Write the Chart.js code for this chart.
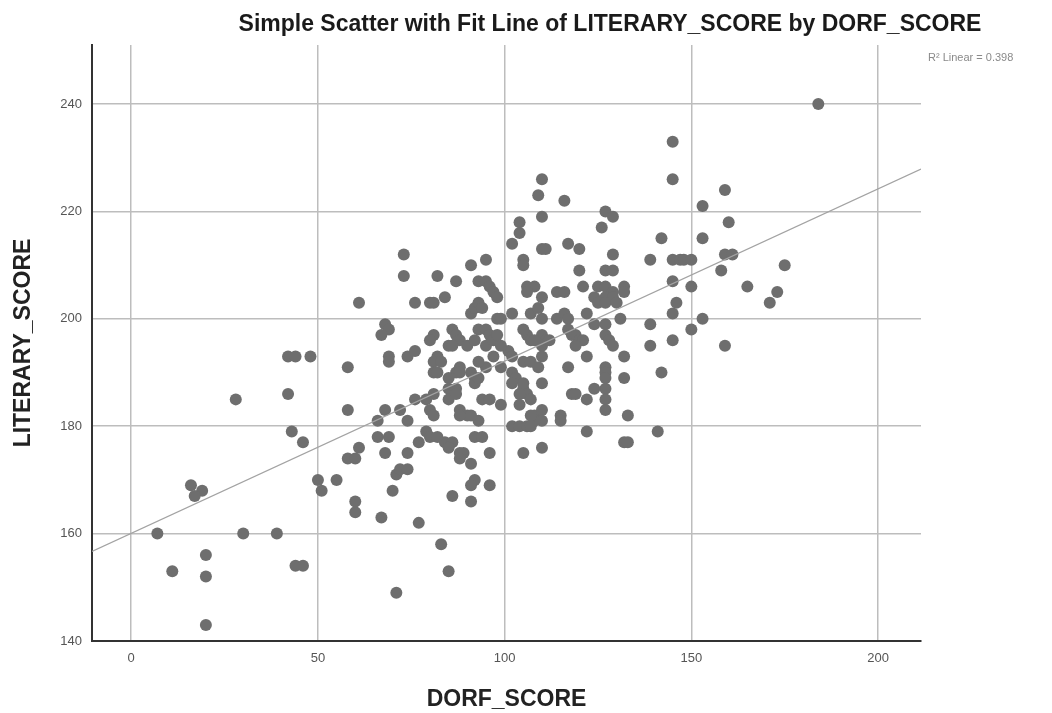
<!DOCTYPE html>
<html>
<head>
<meta charset="utf-8">
<script src="https://cdn.jsdelivr.net/npm/chart.js@4.4.1/dist/chart.umd.min.js"></script>
<style>
body { margin: 0; background: #ffffff; }
#wrap { width: 1052px; height: 713px; position: relative; }
</style>
</head>
<body>
<div id="wrap"><canvas id="myChart"></canvas></div>
<script>
// values
const dorfScore = [
    28, 42, 44, 48, 42, 43, 46, 50, 51, 16, 19, 17, 7, 30, 39, 20, 11, 20, 44, 46, 20,
    73, 73, 82, 95, 91, 87, 93, 95, 96, 61, 76, 80, 81, 84, 91, 92, 93, 94, 97, 98,
    68, 69, 67, 58, 69, 69, 74, 76, 81, 80, 86, 87, 88, 82, 81, 83, 81, 88, 87, 85,
    91, 92, 92, 95, 85, 87, 85, 87, 81, 76, 79, 80, 81, 58, 68, 72, 74, 66, 88, 90,
    94, 96, 93, 79, 80, 66, 69, 77, 84, 86, 92, 94, 61,
    82, 96, 58, 60, 68, 74, 71, 72, 74, 88, 89, 88, 91, 55, 60, 60, 70, 67, 77, 92,
    91, 96, 86, 91, 83, 85, 71,
    110, 109, 116, 110, 104, 104, 102, 110, 111, 117, 120, 127, 129, 126, 129, 105, 105,
    120, 127, 129, 98, 106, 108, 106, 110, 114, 116, 121, 125, 127, 129, 124, 127, 129,
    132, 132, 125, 127, 130, 99, 102, 107, 109, 110, 114, 116, 117, 122, 131,
    127, 124, 127, 106, 107, 110, 111, 110, 117, 118, 119, 120, 121, 128, 129, 119, 122,
    132, 101, 102, 105, 107, 109, 110, 117, 127, 127, 127, 127, 127, 132, 102, 103, 105,
    106, 107, 104, 102, 110, 118, 119, 124, 122, 99, 104, 108, 110, 110, 108, 107, 115,
    115, 127, 133, 102, 104, 106, 107, 122, 110, 105, 132, 133,
    184, 145, 145, 159, 153, 160, 142, 153, 139, 145, 147, 148, 150, 159, 161, 158, 175,
    145, 150, 165, 173, 171, 146, 145, 153, 139, 150, 139, 145, 159, 142, 141,
    85, 86, 90, 92, 93, 95, 96, 95, 93, 82, 88, 93, 91, 88, 85, 105, 108, 112, 97, 99,
    98, 105, 97, 99
];
const literaryScore = [
    185, 193, 193, 193, 186, 179, 177, 170, 168, 169, 168, 167, 160, 160, 160, 156, 153, 152, 154, 154, 143,
    212, 208, 208, 211, 210, 207, 207, 207, 206, 203, 203, 203, 203, 204, 201, 202, 203, 202, 205, 200,
    199, 198, 197, 191, 193, 192, 193, 194, 197, 196, 198, 197, 196, 193, 192, 192, 190, 191, 190, 189,
    190, 189, 188, 191, 187, 187, 185, 186, 186, 185, 185, 183, 182, 183, 183, 183, 181, 181, 183, 182,
    185, 185, 181, 179, 178, 178, 178, 177, 177, 177, 178, 178, 176,
    178, 175, 174, 174, 175, 175, 171, 172, 172, 175, 175, 174, 173, 170, 166, 164, 168, 163, 162, 170,
    169, 169, 167, 166, 158, 153, 149,
    226, 223, 222, 219, 218, 216, 214, 213, 213, 214, 213, 220, 219, 217, 212, 211, 210,
    209, 209, 209, 204, 206, 206, 205, 204, 205, 205, 206, 206, 206, 205, 204, 204, 204,
    206, 205, 203, 203, 203, 200, 201, 201, 202, 200, 200, 201, 200, 201, 200,
    199, 199, 197, 197, 196, 197, 196, 195, 198, 197, 197, 196, 196, 196, 195, 195, 193,
    193, 194, 193, 192, 192, 191, 193, 191, 191, 190, 189, 187, 185, 189, 190, 189, 187,
    186, 185, 186, 188, 188, 186, 186, 187, 185, 184, 184, 182, 183, 181, 181, 182, 182,
    181, 183, 182, 180, 180, 180, 180, 179, 176, 175, 177, 177,
    240, 233, 226, 224, 221, 218, 215, 215, 211, 211, 211, 211, 211, 212, 212, 209, 210,
    207, 206, 206, 205, 203, 203, 201, 200, 199, 198, 195, 196, 195, 190, 179,
    195, 195, 195, 196, 198, 198, 197, 195, 192, 190, 190, 189, 182, 182, 176, 198, 196, 196, 196, 195,
    197, 188, 193, 191
];

// fit line end points, read where the line meets the plot edges
const fitX = [-10.5, 211.5];
const fitY = [156.7, 227.9];

const xTicks = [0, 50, 100, 150, 200];
const yTicks = [140, 160, 180, 200, 220, 240];

const chartTitle = "Simple Scatter with Fit Line of LITERARY_SCORE by DORF_SCORE";
const fitLabel = "R\u00b2 Linear = 0.398";
const xTitle = "DORF_SCORE";
const yTitle = "LITERARY_SCORE";

const family = "Arial, 'Liberation Sans', sans-serif";

let points = dorfScore.map((x, i) => ({ x: x, y: literaryScore[i] }));
let fitPoints = fitX.map((x, i) => ({ x: x, y: fitY[i] }));

// SPSS style title and R² note, drawn on the canvas
const spssText = {
    id: 'spssText',
    afterDraw(chart) {
        const ctx = chart.ctx;
        ctx.save();
        ctx.fillStyle = '#1a1a1a';
        ctx.font = 'bold 23px ' + family;
        ctx.textAlign = 'center';
        ctx.textBaseline = 'middle';
        ctx.fillText(chartTitle, 610, 25, 750);

        ctx.fillStyle = '#8a8a8a';
        ctx.font = '11px ' + family;
        ctx.textAlign = 'left';
        ctx.fillText(fitLabel, chart.chartArea.right + 7, 58);
        ctx.restore();
    }
};

const ctx = document.getElementById("myChart").getContext("2d");
let myChart = new Chart(ctx, {
    type: 'scatter',
    data: {
        datasets: [{
            label: 'Fit',
            data: fitPoints,
            showLine: true,
            borderColor: '#a3a3a3',
            borderWidth: 1.2,
            pointRadius: 0,
            fill: false
        }, {
            label: yTitle,
            data: points,
            backgroundColor: '#6e6e6e',
            borderWidth: 0,
            pointRadius: 6,
            pointHoverRadius: 6
        }]
    },
    options: {
        animation: false,
        responsive: true,
        maintainAspectRatio: false,
        layout: { padding: { left: 0, right: 131, top: 45, bottom: 0 } },
        plugins: {
            legend: { display: false },
            tooltip: { enabled: false },
            title: { display: false }
        },
        scales: {
            x: {
                type: 'linear',
                min: -10.5,
                max: 211.5,
                afterBuildTicks: axis => { axis.ticks = xTicks.map(v => ({ value: v })); },
                afterFit: scale => { scale.height = 72; },
                grid: { color: '#bdbdbd', lineWidth: 1.5, drawTicks: false },
                border: { display: true, color: '#333333', width: 2 },
                ticks: { padding: 10, color: '#555555', maxRotation: 0, font: { size: 13, family: family } },
                title: {
                    display: true,
                    text: xTitle,
                    color: '#222222',
                    font: { size: 23, weight: 'bold', family: family },
                    padding: { top: 0, bottom: 0 }
                }
            },
            y: {
                type: 'linear',
                min: 140,
                max: 251,
                afterBuildTicks: axis => { axis.ticks = yTicks.map(v => ({ value: v })); },
                afterFit: scale => { scale.width = 92; },
                grid: { color: '#bdbdbd', lineWidth: 1.5, drawTicks: false },
                border: { display: true, color: '#333333', width: 2 },
                ticks: { padding: 10, color: '#555555', font: { size: 13, family: family } },
                title: {
                    display: true,
                    text: yTitle,
                    color: '#222222',
                    font: { size: 23, weight: 'bold', family: family },
                    padding: { top: 10, bottom: 0 }
                }
            }
        }
    },
    plugins: [spssText]
});
</script>
</body>
</html>
